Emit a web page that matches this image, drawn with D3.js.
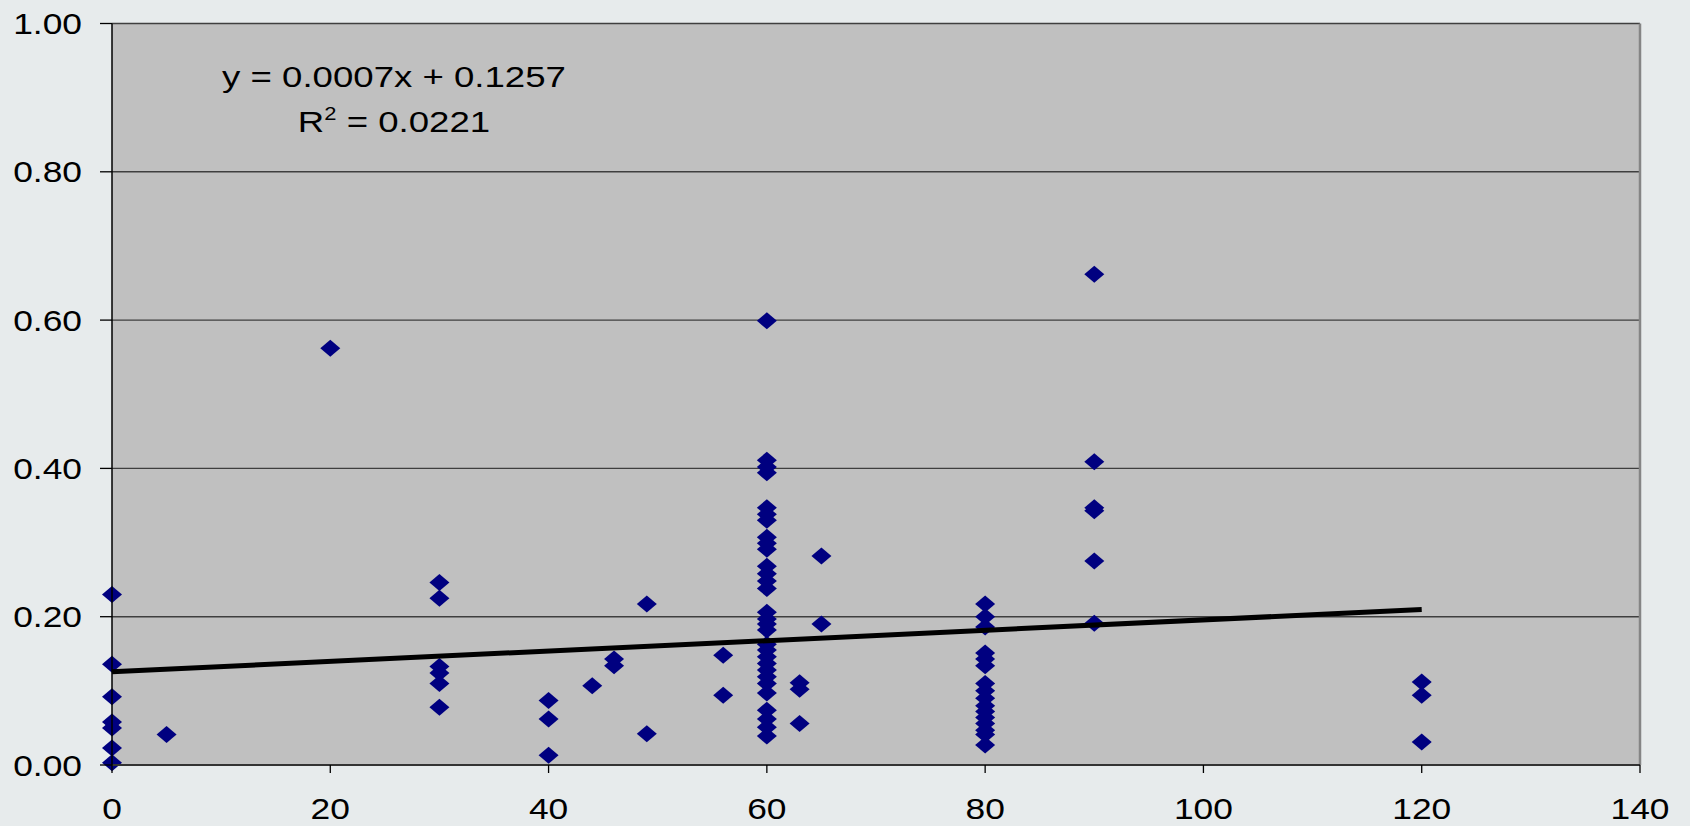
<!DOCTYPE html>
<html>
<head>
<meta charset="utf-8">
<script src="https://cdn.jsdelivr.net/npm/d3@7"></script>
<style>
    body { margin: 0; background: #e7ebec; }
    svg { display: block; }
    text { font-family: "Liberation Sans", Arial, sans-serif; fill: #000; }
</style>
</head>
<body>
<script>
// x positions of the measured columns and the y values found at each
var xCols = [0, 5, 20, 30, 40, 44, 46, 49, 56, 60, 63, 65, 80, 90, 120];
var yCols = [
    [0.230, 0.136, 0.092, 0.058, 0.050, 0.023, 0.003],
    [0.041],
    [0.562],
    [0.246, 0.225, 0.133, 0.124, 0.110, 0.078],
    [0.087, 0.062, 0.013],
    [0.107],
    [0.143, 0.134],
    [0.217, 0.042],
    [0.148, 0.094],
    [0.599, 0.411, 0.402, 0.394, 0.347, 0.338, 0.330, 0.307, 0.299, 0.291,
     0.268, 0.258, 0.248, 0.238, 0.206, 0.197, 0.190, 0.182,
     0.163, 0.155, 0.146, 0.137, 0.128, 0.119, 0.110, 0.097, 0.074, 0.062, 0.051, 0.039],
    [0.111, 0.102, 0.056],
    [0.282, 0.190],
    [0.217, 0.200, 0.186, 0.151, 0.143, 0.134, 0.110, 0.100, 0.090, 0.080,
     0.072, 0.064, 0.056, 0.047, 0.041, 0.027],
    [0.662, 0.409, 0.347, 0.343, 0.275, 0.191],
    [0.112, 0.094, 0.031]
];
var xTicks = [0, 20, 40, 60, 80, 100, 120, 140];
var yTicks = [0, 0.2, 0.4, 0.6, 0.8, 1.0];
var slope = 0.0007,
    intercept = 0.1257,
    trendRange = [0, 120];
var eqLine1 = 'y = 0.0007x + 0.1257',
    eqLine2 = '0.0221';

(function () {
    var width = 1690,
        height = 826,
        left = 112,
        right = 1640,
        top = 23.5,
        bottom = 765,
        stretch = 1.22,
        svg, x, y, points, plot;

    svg = d3.select('body').append('svg')
        .attr('width', width)
        .attr('height', height);

    x = d3.scaleLinear().domain([0, 140]).range([left, right]);
    y = d3.scaleLinear().domain([0, 1]).range([bottom, top]);

    // text in the source is stretched sideways, so scale it the same way
    function label(g, tx, ty, size, anchor) {
        return g.append('text')
            .attr('transform', 'translate(' + tx + ',' + ty + ') scale(' + stretch + ',1)')
            .attr('text-anchor', anchor)
            .style('font-size', size + 'px');
    }

    // plot area
    svg.append('rect')
        .attr('x', left)
        .attr('y', top)
        .attr('width', right - left)
        .attr('height', bottom - top)
        .attr('fill', '#c0c0c0');

    // gridlines
    svg.append('g').selectAll('line').data(yTicks.slice(1)).enter().append('line')
        .attr('x1', left)
        .attr('x2', right)
        .attr('y1', function (d) { return y(d); })
        .attr('y2', function (d) { return y(d); })
        .attr('stroke', '#3f3f3f')
        .attr('stroke-width', 1.4);

    // right border
    svg.append('line')
        .attr('x1', right).attr('x2', right)
        .attr('y1', top).attr('y2', bottom)
        .attr('stroke', '#858585')
        .attr('stroke-width', 2.5);

    // markers
    points = [];
    xCols.forEach(function (cx, i) {
        yCols[i].forEach(function (v) {
            points.push({ x: cx, y: v });
        });
    });
    plot = svg.append('g');
    plot.selectAll('path').data(points).enter().append('path')
        .attr('d', 'M-10,0L0,-8.5L10,0L0,8.5Z')
        .attr('transform', function (d) {
            return 'translate(' + x(d.x) + ',' + y(d.y) + ')';
        })
        .attr('fill', '#000080');

    // linear trendline
    svg.append('line')
        .attr('x1', x(trendRange[0]))
        .attr('y1', y(intercept + slope * trendRange[0]))
        .attr('x2', x(trendRange[1]))
        .attr('y2', y(intercept + slope * trendRange[1]))
        .attr('stroke', '#000')
        .attr('stroke-width', 5);

    // axes
    var xAxis = svg.append('g');
    xAxis.append('line')
        .attr('x1', left).attr('x2', right)
        .attr('y1', bottom).attr('y2', bottom)
        .attr('stroke', '#333')
        .attr('stroke-width', 2);
    xAxis.selectAll('line.tick').data(xTicks).enter().append('line')
        .attr('class', 'tick')
        .attr('x1', function (d) { return x(d); })
        .attr('x2', function (d) { return x(d); })
        .attr('y1', bottom)
        .attr('y2', bottom + 8)
        .attr('stroke', '#000')
        .attr('stroke-width', 1.3);
    xTicks.forEach(function (d) {
        label(xAxis, x(d), 819, 29, 'middle').text(d);
    });

    var yAxis = svg.append('g');
    yAxis.append('line')
        .attr('x1', left).attr('x2', left)
        .attr('y1', top).attr('y2', bottom)
        .attr('stroke', '#000')
        .attr('stroke-width', 1.5);
    yAxis.selectAll('line.tick').data(yTicks).enter().append('line')
        .attr('class', 'tick')
        .attr('x1', left - 12)
        .attr('x2', left)
        .attr('y1', function (d) { return y(d); })
        .attr('y2', function (d) { return y(d); })
        .attr('stroke', '#000')
        .attr('stroke-width', 1.3);
    yTicks.forEach(function (d) {
        label(yAxis, 82, y(d) + 10.5, 29, 'end').text(d3.format('.2f')(d));
    });

    // trendline equation
    var eq = svg.append('g');
    label(eq, 394, 86.5, 30, 'middle').text(eqLine1);
    var r2 = label(eq, 394, 131.5, 30, 'middle');
    r2.append('tspan').text('R');
    r2.append('tspan').attr('dy', -12).style('font-size', '18px').text('2');
    r2.append('tspan').attr('dy', 12).text(' = ' + eqLine2);
}());
</script>
</body>
</html>
